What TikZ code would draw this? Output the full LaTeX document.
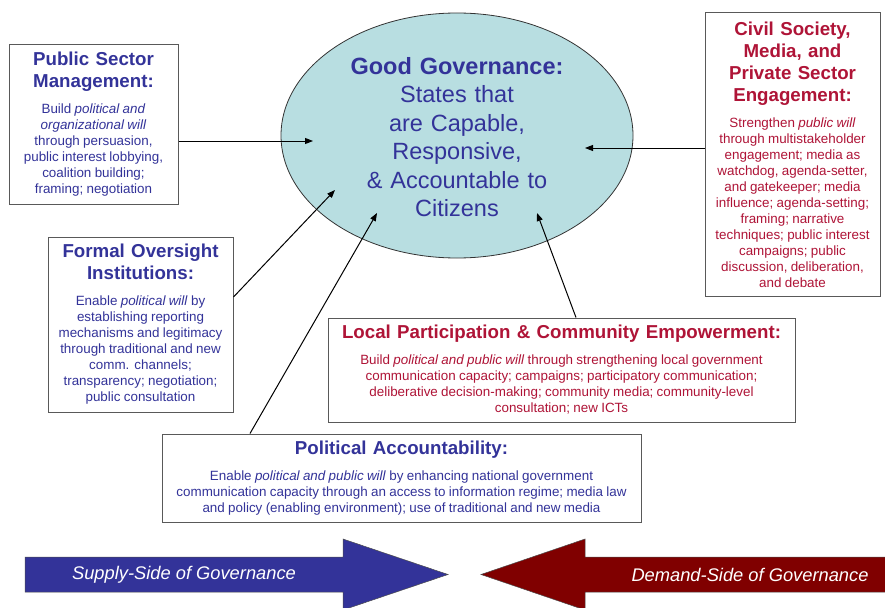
\documentclass[tikz,border=0pt]{standalone}
\usepackage{fontspec}
\setmainfont{Liberation Sans}
\usetikzlibrary{shapes.geometric,arrows.meta,positioning}
\definecolor{blueT}{RGB}{51,51,153}
\definecolor{redT}{RGB}{175,20,55}
\definecolor{govFill}{RGB}{184,222,225}
\definecolor{supplyC}{RGB}{51,51,153}
\definecolor{demandC}{RGB}{128,0,0}
\newcommand\hdfont{\fontsize{18.7}{22}\selectfont\bfseries\spaceskip=0.34em\relax}
\newcommand\txfont{\fontsize{13.4}{16}\selectfont}
\begin{document}
\begin{tikzpicture}[x=1pt, y=-1pt,
      line width = 1pt,
      B/.style={draw=black!65, fill=white, align=center, inner sep=0pt},
      E/.style={ellipse, draw=black!80, line width=0.8pt, fill=govFill},
      C/.style={-{Triangle[length=8pt,width=6pt]}, black},
      F/.style={draw=black!70, line width=0.5pt},
      W/.style={text=white, font=\itshape\fontsize{18.3}{20}\selectfont}]
      \useasboundingbox (0,0) rectangle (885,607);
      \node[E, minimum width=352, minimum height=245] (gov) at (457,135.5) {};
      \node[text=blueT, align=center, text width=320,
        font=\fontsize{23.5}{28.5}\selectfont] (govtxt) at (457,137)
        {\textbf{Good Governance:}\\States that\\are Capable,\\Responsive,\\\& Accountable to\\Citizens};
      \node[B, text=blueT, text width=164, minimum width=169, minimum height=159]
        (psm) at (93.5,124.5)
        {{\hdfont Public Sector\\Management:\par}\vspace{10pt}%
         {\txfont Build \textit{political and}\\\textit{organizational will}\\through persuasion,\\public interest lobbying,\\coalition building;\\framing; negotiation\par}};
      \node[B, text=redT, text width=172, minimum width=175, minimum height=283]
        (civil) at (792.5,154.5)
        {{\hdfont Civil Society,\\Media, and\\Private Sector\\Engagement:\par}\vspace{10pt}%
         {\txfont Strengthen \textit{public will}\\through multistakeholder\\engagement; media as\\watchdog, agenda-setter,\\and gatekeeper; media\\influence; agenda-setting;\\framing; narrative\\techniques; public interest\\campaigns; public\\discussion, deliberation,\\and debate\par}};
      \node[B, text=blueT, text width=182, minimum width=185, minimum height=175]
        (formal) at (140.5,324.5)
        {{\hdfont Formal Oversight\\Institutions:\par}\vspace{10pt}%
         {\txfont Enable \textit{political will} by\\establishing reporting\\mechanisms and legitimacy\\through traditional and new\\comm. channels;\\transparency; negotiation;\\public consultation\par}};
      \node[B, text=redT, text width=460, minimum width=467, minimum height=104]
        (local) at (561.5,370)
        {{\hdfont Local Participation \& Community Empowerment:\par}\vspace{10pt}%
         {\txfont Build \textit{political and public will} through strengthening local government\\communication capacity; campaigns; participatory communication;\\deliberative decision-making; community media; community-level\\consultation; new ICTs\par}};
      \node[B, text=blueT, text width=474, minimum width=479, minimum height=88]
        (polacc) at (401.5,478)
        {{\hdfont Political Accountability:\par}\vspace{10pt}%
         {\txfont Enable \textit{political and public will} by enhancing national government\\communication capacity through an access to information regime; media law\\and policy (enabling environment); use of traditional and new media\par}};
      \coordinate (tipP) at (313,141);
      \coordinate (tipC) at (585,148);
      \coordinate (tipF) at (335,190);
      \coordinate (tipA) at (377,213);
      \coordinate (tipL) at (537,213);
      \draw[C] (psm.east |- tipP) -- (tipP);
      \draw[C] (civil.west |- tipC) -- (tipC);
      \draw[C] (formal.east) ++(0,-27.5) -- (tipF);
      \draw[C] (polacc.north) ++(-151.5,0) -- (tipA);
      \draw[C] (local.north) ++(14.5,0) -- (tipL);
      \filldraw[F, fill=supplyC] (25,557) -- (343,557) -- (343,539) -- (448,574.5)
        -- (343,610) -- (343,592) -- (25,592) -- cycle;
      \filldraw[F, fill=demandC] (895,557) -- (585,557) -- (585,539) -- (481,574.5)
        -- (585,610) -- (585,592) -- (895,592) -- cycle;
      \node[W] (supply) at (184,574.5) {Supply-Side of Governance};
      \node[W] (demand) at (750,574.5) {Demand-Side of Governance};
    \end{tikzpicture}
\end{document}
